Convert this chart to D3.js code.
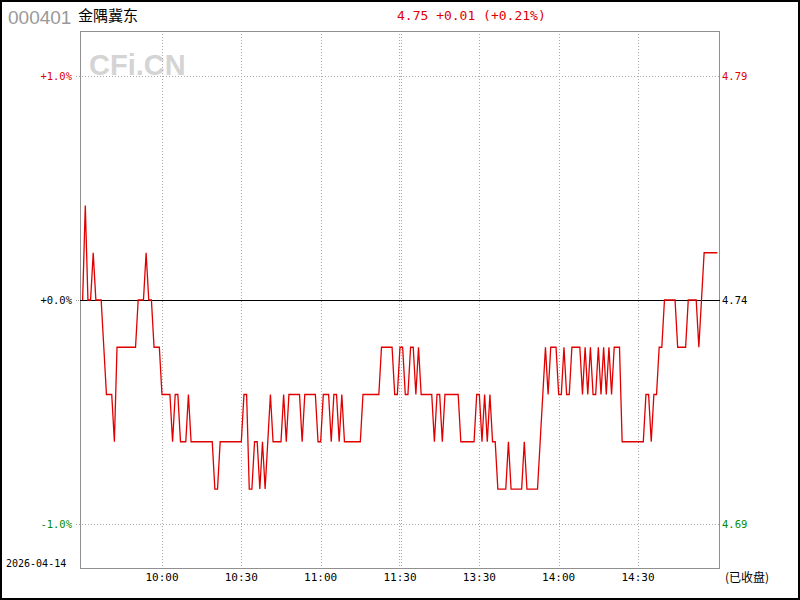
<!DOCTYPE html>
<html><head><meta charset="utf-8">
<script src="https://cdn.jsdelivr.net/npm/d3@7/dist/d3.min.js"></script>
<style>body{margin:0;background:#fff}svg{display:block}</style>
</head><body><svg id="c" width="800" height="600"></svg>
<script>
const stockCode = "000401";
const stockName = "金隅冀东";
const dateLabel = "2026-04-14";
const statusLabel = "(已收盘)";
const prevClose = 4.74;
const prices = [
4.74,4.76,4.74,4.74,4.75,4.74,4.74,4.74,4.73,4.72,
4.72,4.72,4.71,4.73,4.73,4.73,4.73,4.73,4.73,4.73,
4.73,4.74,4.74,4.74,4.75,4.74,4.74,4.73,4.73,4.73,
4.72,4.72,4.72,4.72,4.71,4.72,4.72,4.71,4.71,4.71,
4.72,4.71,4.71,4.71,4.71,4.71,4.71,4.71,4.71,4.71,
4.70,4.70,4.71,4.71,4.71,4.71,4.71,4.71,4.71,4.71,
4.71,4.72,4.72,4.70,4.70,4.71,4.71,4.70,4.71,4.70,
4.71,4.72,4.71,4.71,4.71,4.71,4.72,4.71,4.72,4.72,
4.72,4.72,4.72,4.71,4.72,4.72,4.72,4.72,4.72,4.71,
4.71,4.72,4.72,4.72,4.71,4.72,4.72,4.71,4.72,4.71,
4.71,4.71,4.71,4.71,4.71,4.71,4.72,4.72,4.72,4.72,
4.72,4.72,4.72,4.73,4.73,4.73,4.73,4.73,4.72,4.72,
4.73,4.73,4.72,4.72,4.73,4.73,4.72,4.73,4.72,4.72,
4.72,4.72,4.72,4.71,4.72,4.72,4.71,4.72,4.72,4.72,
4.72,4.72,4.72,4.71,4.71,4.71,4.71,4.71,4.71,4.72,
4.72,4.71,4.72,4.71,4.72,4.71,4.71,4.70,4.70,4.70,
4.70,4.71,4.70,4.70,4.70,4.70,4.70,4.71,4.70,4.70,
4.70,4.70,4.70,4.71,4.72,4.73,4.72,4.73,4.73,4.73,
4.72,4.72,4.73,4.72,4.72,4.73,4.73,4.73,4.73,4.72,
4.73,4.72,4.73,4.72,4.72,4.73,4.72,4.73,4.72,4.73,
4.72,4.73,4.73,4.73,4.71,4.71,4.71,4.71,4.71,4.71,
4.71,4.71,4.71,4.72,4.72,4.71,4.72,4.72,4.73,4.73,
4.74,4.74,4.74,4.74,4.74,4.73,4.73,4.73,4.73,4.74,
4.74,4.74,4.74,4.73,4.74,4.75,4.75,4.75,4.75,4.75,
4.75
];
const timeTickIndex = [30, 60, 90, 120, 150, 180, 210];
const timeTickLabels = ["10:00", "10:30", "11:00", "11:30", "13:30", "14:00", "14:30"];
const pctTicks = [1, 0, -1];

const RED = "#e00000", GREEN = "#008c00";
const svg = d3.select("#c");
const L = 80, R = 720, T = 31, B = 569;
const x = d3.scaleLinear().domain([-1, 241]).range([L, R]);
const y = d3.scaleLinear().domain([-1, 1]).range([524, 76]);
const pct = p => (p / prevClose - 1) * 100;
const mono = "'DejaVu Sans Mono', 'Liberation Mono', monospace";

// outer frame
svg.append("rect").attr("x", 1).attr("y", 1).attr("width", 798).attr("height", 598)
  .attr("fill", "#fff").attr("stroke", "#000").attr("stroke-width", 2);

// watermark
svg.append("text").attr("x", 89).attr("y", 75).text("CFi.CN")
  .attr("font-family", "'Liberation Sans', Arial, sans-serif").attr("font-weight", "bold")
  .attr("font-size", 29).attr("fill", "#d4d4d4");

// header
svg.append("text").attr("x", 8).attr("y", 24).text(stockCode)
  .attr("font-family", "'Liberation Sans', Arial, sans-serif").attr("font-size", 19).attr("fill", "#999");
svg.append("text").attr("x", 78).attr("y", 21).text(stockName)
  .attr("font-family", "'Noto Sans CJK SC', sans-serif").attr("font-size", 15).attr("fill", "#000");
const last = prices[prices.length - 1];
const chg = last - prevClose;
const sign = chg >= 0 ? "+" : "-";
const headerText = last.toFixed(2) + " " + sign + Math.abs(chg).toFixed(2) + " (" + sign + Math.abs(chg / prevClose * 100).toFixed(2) + "%)";
svg.append("text").attr("x", 397).attr("y", 20).text(headerText)
  .attr("font-family", mono).attr("font-size", 13).attr("fill", chg >= 0 ? RED : GREEN);

const g = svg.append("g").attr("shape-rendering", "crispEdges");
// horizontal grid
pctTicks.forEach(p => {
  const yy = Math.round(y(p)) + 0.5;
  if (p === 0) {
    g.append("line").attr("x1", 76).attr("x2", L).attr("y1", yy).attr("y2", yy)
      .attr("stroke", "#999").attr("stroke-dasharray", "1,1");
  } else {
    g.append("line").attr("x1", 76).attr("x2", R).attr("y1", yy).attr("y2", yy)
      .attr("stroke", "#aaa").attr("stroke-dasharray", "1,2");
  }
});
// vertical grid
timeTickIndex.forEach(i => {
  const xx = Math.round(x(i)) + 0.5;
  const xs = i === 120 ? [xx - 1, xx + 1] : [xx];
  xs.forEach(v => g.append("line").attr("x1", v).attr("x2", v).attr("y1", T).attr("y2", B)
    .attr("stroke", "#aaa").attr("stroke-dasharray", "1,2"));
});
// plot border
g.append("rect").attr("x", L + 0.5).attr("y", T + 0.5).attr("width", R - L - 1).attr("height", B - T - 1)
  .attr("fill", "none").attr("stroke", "#909090");
// zero line
g.append("line").attr("x1", L).attr("x2", R).attr("y1", Math.round(y(0)) + 0.5).attr("y2", Math.round(y(0)) + 0.5)
  .attr("stroke", "#000");

// price line
const line = d3.line().x((d, i) => x(i)).y(d => y(pct(d)));
svg.append("path").datum(prices).attr("d", line).attr("fill", "none")
  .attr("stroke", RED).attr("stroke-width", 1.3);

// left / right labels
pctTicks.forEach(p => {
  const col = p > 0 ? RED : (p < 0 ? GREEN : "#000");
  svg.append("text").attr("x", 72).attr("y", y(p)).attr("dy", "0.35em").attr("text-anchor", "end")
    .text((p >= 0 ? "+" : "-") + Math.abs(p).toFixed(1) + "%")
    .attr("font-family", mono).attr("font-size", 10.5).attr("fill", col);
  svg.append("text").attr("x", 722).attr("y", y(p)).attr("dy", "0.35em")
    .text((prevClose * (1 + p / 100)).toFixed(2))
    .attr("font-family", mono).attr("font-size", 10.5).attr("fill", col);
});

// time labels
timeTickIndex.forEach((i, k) => {
  svg.append("text").attr("x", x(i)).attr("y", 581).attr("text-anchor", "middle")
    .text(timeTickLabels[k]).attr("font-family", mono).attr("font-size", 11).attr("fill", "#000");
});
svg.append("text").attr("x", 6).attr("y", 567).text(dateLabel)
  .attr("font-family", mono).attr("font-size", 10).attr("fill", "#000");
svg.append("text").attr("x", 725).attr("y", 582).text(statusLabel)
  .attr("font-family", "'Noto Sans CJK SC', sans-serif").attr("font-size", 12).attr("fill", "#000");
</script></body></html>
